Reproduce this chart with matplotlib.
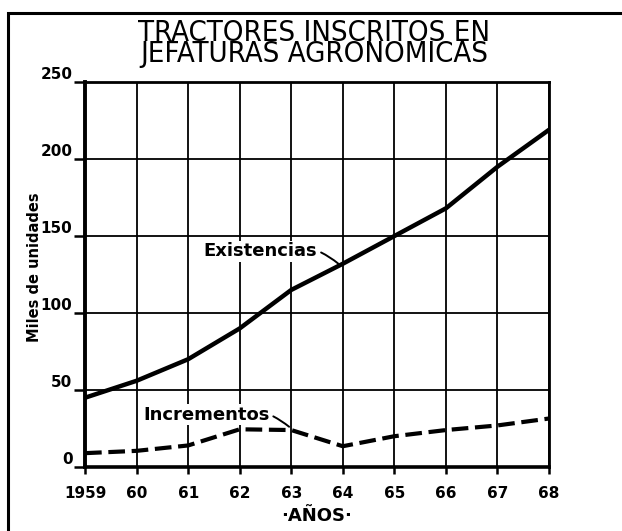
import matplotlib.pyplot as plt
from matplotlib.patches import Rectangle

# Datos (miles de unidades)
anios = [1959, 1960, 1961, 1962, 1963, 1964, 1965, 1966, 1967, 1968]
etiquetas = ['1959', '60', '61', '62', '63', '64', '65', '66', '67', '68']
existencias = [45, 56, 70, 90, 115, 132, 150, 168, 195, 219]
incrementos = [9, 10.5, 14, 24.5, 24, 13.5, 20, 24, 27, 31.5]

fig = plt.figure(figsize=(6.22, 5.31), dpi=100)
ax = fig.add_axes([0.1367, 0.1205, 0.746, 0.725])

# Marco exterior
fig.patches.append(Rectangle((0.013, -0.05), 1.1, 1.025, transform=fig.transFigure,
                             fill=False, lw=2.2, ec='black'))

ax.plot(anios, existencias, color='black', lw=3.2, solid_capstyle='round')
ax.plot(anios, incrementos, color='black', lw=3, dashes=(4, 1.6))

ax.set_xlim(1959, 1968)
ax.set_ylim(0, 250)
ax.set_xticks(anios)
ax.set_xticklabels(etiquetas)
ax.set_yticks([0, 50, 100, 150, 200, 250])
ax.grid(True, color='black', lw=1.3)
for s in ax.spines.values():
    s.set_linewidth(2)
ax.spines['left'].set_linewidth(2.8)
ax.spines['bottom'].set_linewidth(2.6)
ax.tick_params(axis='y', length=8, width=1.8, labelsize=11, pad=1)
ax.tick_params(axis='x', length=5, width=1.8, labelsize=11, pad=9)
for lab in ax.get_xticklabels() + ax.get_yticklabels():
    lab.set_fontweight('black')
for lab in ax.get_yticklabels():
    lab.set_va('bottom')

ax.set_ylabel('Miles de unidades', fontsize=10.5, fontweight='bold')
ax.yaxis.set_label_coords(-0.093, 0.52)
ax.set_xlabel('·AÑOS·', fontsize=13, fontweight='bold', labelpad=4)

fig.text(0.505, 0.918, 'TRACTORES INSCRITOS EN\nJEFATURAS AGRONOMICAS',
         ha='center', va='center', multialignment='center', linespacing=0.72,
         fontsize=21, family='Liberation Sans Narrow', stretch='condensed')

ax.annotate('Existencias', xy=(1963.95, 131), xytext=(1962.4, 140),
            fontsize=13, fontweight='bold', ha='center', va='center',
            bbox=dict(fc='white', ec='none', pad=1),
            arrowprops=dict(arrowstyle='-', lw=1.4, color='black',
                            connectionstyle='arc3,rad=-0.3'))
ax.annotate('Incrementos', xy=(1963.0, 25), xytext=(1961.35, 34),
            fontsize=13, fontweight='bold', ha='center', va='center',
            bbox=dict(fc='white', ec='none', pad=1),
            arrowprops=dict(arrowstyle='-', lw=1.4, color='black',
                            connectionstyle='arc3,rad=-0.3'))

fig.savefig('out.png', dpi=100)
